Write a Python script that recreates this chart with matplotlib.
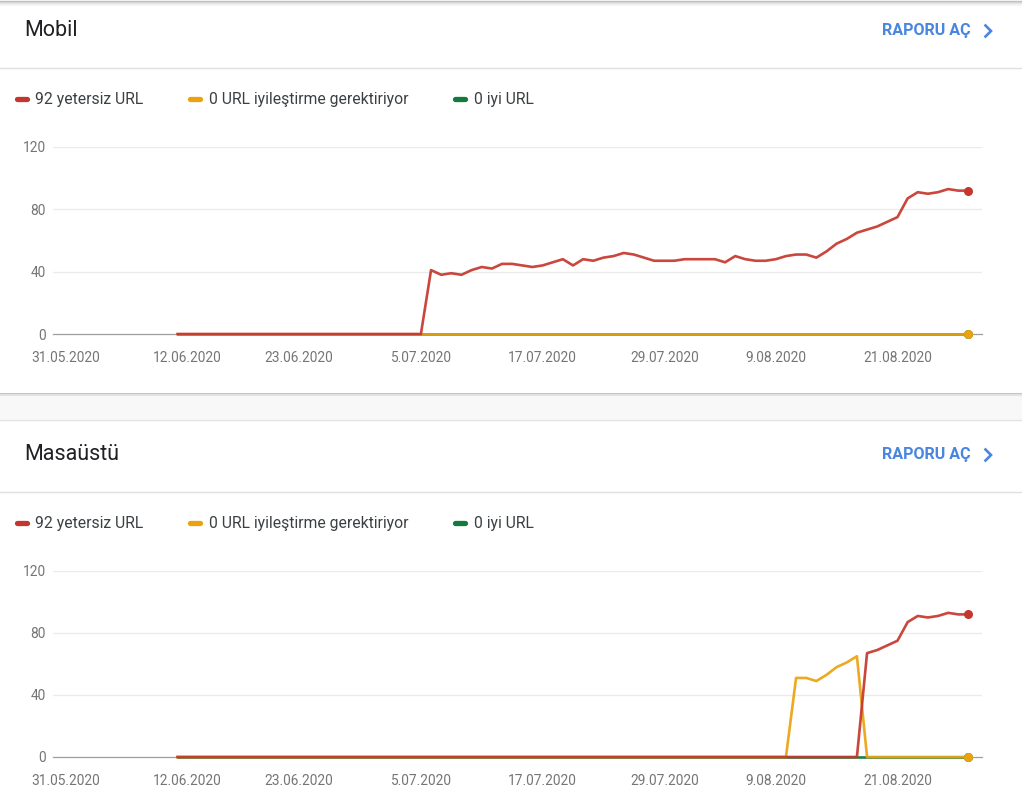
import datetime as dt
import matplotlib
matplotlib.use("Agg")
import matplotlib.pyplot as plt
from matplotlib.lines import Line2D
from matplotlib.patches import Rectangle
from matplotlib.ticker import FixedLocator, FuncFormatter
import matplotlib.dates as mdates

plt.rcParams['font.family'] = ['Roboto', 'DejaVu Sans']

# ---------------- data ----------------
start_date = dt.date(2020, 6, 11)
n_days = 79  # 11.06.2020 .. 28.08.2020
dates = [start_date + dt.timedelta(days=i) for i in range(n_days)]

mobile_poor = [0] * 25 + [
    41, 38, 39, 38, 41, 43, 42, 45, 45, 44, 43, 44, 46, 48, 44, 48, 47, 49,
    50, 52, 51, 49, 47, 47, 47, 48, 48, 48, 48, 46, 50, 48, 47, 47, 48, 50,
    51, 51, 49, 53, 58, 61, 65, 67, 69, 72, 75, 87, 91, 90, 91, 93, 92, 92]
mobile_ni = [0] * n_days
mobile_good = [0] * n_days

desktop_poor = [0] * 68 + [67, 69, 72, 75, 87, 91, 90, 91, 93, 92, 92]
desktop_ni = [0] * 61 + [51, 51, 49, 53, 58, 61, 65] + [0] * 11
desktop_good = [0] * n_days

legend_labels = ["92 yetersiz URL", "0 URL iyileştirme gerektiriyor", "0 iyi URL"]
panel_titles = ["Mobil", "Masaüstü"]
link_text = "RAPORU AÇ"
y_ticks = [0, 40, 80, 120]
x_tick_dates = [dt.date(2020, 5, 31), dt.date(2020, 6, 12), dt.date(2020, 6, 23),
                dt.date(2020, 7, 5), dt.date(2020, 7, 17), dt.date(2020, 7, 29),
                dt.date(2020, 8, 9), dt.date(2020, 8, 21)]

# ---------------- style ----------------
RED = "#c5372c"
ORANGE = "#eba20f"
GREEN = "#137a3e"
BLUE = "#4a86e0"
W, H = 1022, 792

fig = plt.figure(figsize=(W / 100, H / 100), dpi=100)
fig.patch.set_facecolor("white")


def fx(x):
    return x / W


def fy(y):
    return 1 - y / H


# background gap between cards + shadows
fig.patches.append(Rectangle((0, fy(420)), 1, fy(393) - fy(420), transform=fig.transFigure,
                             facecolor="#f8f8f8", edgecolor="none", zorder=0))
for y, c, lw in [(393.5, "#b8b8b8", 1.2), (395, "#e2e2e2", 1.5), (420, "#e4e4e4", 1.0)]:
    fig.lines.append(Line2D([0, 1], [fy(y), fy(y)], transform=fig.transFigure, color=c, lw=lw))
for i, c in enumerate(["#bdbdbd", "#d2d2d2", "#e3e3e3", "#efefef", "#f7f7f7"]):
    fig.lines.append(Line2D([0, 1], [fy(0.5 + i), fy(0.5 + i)], transform=fig.transFigure, color=c, lw=1))


def date_fmt(x, pos=None):
    d = mdates.num2date(x)
    return f"{d.day}.{d.month:02d}.{d.year}"


px_per_day = 10.14
x0_num = mdates.date2num(dt.date(2020, 5, 31))
x_left = x0_num - (66 - 53) / px_per_day
x_right = x0_num + (982 - 66) / px_per_day

panels = [
    (0, mobile_poor, mobile_ni, mobile_good, 147, 334),
    (424, desktop_poor, desktop_ni, desktop_good, 571, 757),
]

for idx, (off, poor, ni, good, ytop, ybot) in enumerate(panels):
    # header
    fig.text(fx(24), fy(30 + off), panel_titles[idx], fontsize=15.5, color="#202124",
             ha="left", va="center")
    fig.text(fx(882), fy(31 + off), link_text, fontsize=11.6, color=BLUE, fontweight="bold",
             ha="left", va="center")
    fig.lines.append(Line2D([fx(985.5), fx(991), fx(985.5)],
                            [fy(25.5 + off), fy(31 + off), fy(36.5 + off)],
                            transform=fig.transFigure, color=BLUE, lw=1.9,
                            solid_joinstyle="miter"))
    fig.lines.append(Line2D([0, 1], [fy(67.5 + off), fy(67.5 + off)], transform=fig.transFigure,
                            color="#e0e0e0", lw=1))
    # legend
    for (mx, tx), col, lab in zip([(15, 35), (188, 209), (453, 474)],
                                  [RED, ORANGE, GREEN], legend_labels):
        fig.lines.append(Line2D([fx(mx + 2), fx(mx + 12)], [fy(99 + off), fy(99 + off)],
                                transform=fig.transFigure, color=col, lw=3.8,
                                solid_capstyle="round"))
        fig.text(fx(tx), fy(99.5 + off), lab, fontsize=11.3, color="#3c4043",
                 ha="left", va="center")

    ax = fig.add_axes([fx(53), fy(ybot), fx(982 - 53), (ybot - ytop) / H])
    ax.set_facecolor("none")
    for s in ax.spines.values():
        s.set_visible(False)
    ax.set_ylim(0, 120)
    ax.set_xlim(x_left, x_right)
    ax.yaxis.set_major_locator(FixedLocator(y_ticks))
    ax.xaxis.set_major_locator(FixedLocator([mdates.date2num(d) for d in x_tick_dates]))
    ax.xaxis.set_major_formatter(FuncFormatter(date_fmt))
    ax.tick_params(axis="both", length=0, labelsize=9.9, labelcolor="#757575")
    ax.tick_params(axis="y", pad=5)
    ax.tick_params(axis="x", pad=12)
    for t in y_ticks[1:]:
        ax.axhline(t, color="#ebebeb", lw=1, zorder=1)
    ax.axhline(0, color="#9e9e9e", lw=0.9, zorder=1, clip_on=False)

    for series, col, z in [(good, GREEN, 3), (ni, ORANGE, 4), (poor, RED, 5)]:
        ax.plot(dates, series, color=col, lw=1.9, zorder=z, clip_on=False,
                solid_joinstyle="round", alpha=0.92)
        ax.plot([dates[-1]], [series[-1]], "o", color=col, ms=6.5, zorder=z + 3,
                clip_on=False, markeredgewidth=0)

fig.savefig("out.png", dpi=100, facecolor="white")
